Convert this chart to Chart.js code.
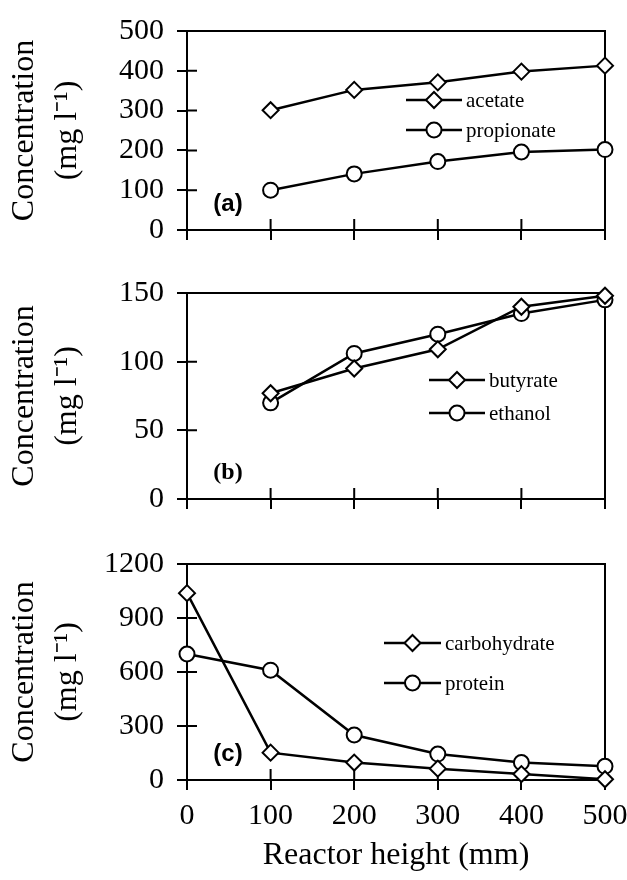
<!DOCTYPE html>
<html>
<head>
<meta charset="utf-8">
<script src="https://cdn.jsdelivr.net/npm/chart.js@4.4.1/dist/chart.umd.min.js"></script>
<style>
  html, body { margin: 0; padding: 0; background: #fff; }
  #wrap { position: relative; width: 627px; height: 880px; }
  #wrap canvas { position: absolute; left: 0; }
</style>
</head>
<body>
<div id="wrap">
  <canvas id="panelA" width="627" height="262" style="top:0"></canvas>
  <canvas id="panelB" width="627" height="268" style="top:262px"></canvas>
  <canvas id="panelC" width="627" height="350" style="top:530px"></canvas>
</div>
<script>
// reactor height (mm)
const heights = [0, 100, 200, 300, 400, 500];
const xTicks = [0, 100, 200, 300, 400, 500];

// (a) acetate / propionate, mg/l
const acetate = [null, 301, 352, 371, 398, 413];
const propionate = [null, 100, 141, 172, 196, 202];
const yTicksA = [0, 100, 200, 300, 400, 500];

// (b) butyrate / ethanol
const butyrate = [null, 77, 95, 109, 140, 148];
const ethanol = [null, 70, 106, 120, 135, 145];
const yTicksB = [0, 50, 100, 150];

// (c) carbohydrate / protein
const carbohydrate = [1038, 152, 97, 63, 33, 4];
const protein = [700, 610, 250, 144, 97, 76];
const yTicksC = [0, 300, 600, 900, 1200];

const serif = '"Liberation Serif", "Times New Roman", serif';

function points(ys) {
  return heights.map((x, i) => ({x: x, y: ys[i]})).filter(p => p.y !== null);
}

function mark(ctx, style, x, y, r) {
  ctx.beginPath();
  if (style === 'rectRot') {
    ctx.moveTo(x, y - r); ctx.lineTo(x + r, y); ctx.lineTo(x, y + r); ctx.lineTo(x - r, y);
    ctx.closePath();
  } else {
    ctx.arc(x, y, r, 0, Math.PI * 2);
  }
  ctx.fillStyle = '#fff';
  ctx.fill();
  ctx.lineWidth = 2;
  ctx.strokeStyle = '#000';
  ctx.stroke();
}

// box round the plot, inner half of the ticks, and the panel letter
const frame = {
  id: 'frame',
  beforeDatasetsDraw(chart) {
    const {ctx, chartArea: a, scales} = chart;
    const o = chart.options.plugins.frame;
    ctx.save();
    ctx.strokeStyle = '#000';
    ctx.lineWidth = 2;
    ctx.strokeRect(a.left, a.top, a.right - a.left, a.bottom - a.top);
    ctx.beginPath();
    scales.x.ticks.forEach(t => {
      const px = scales.x.getPixelForValue(t.value);
      ctx.moveTo(px, a.bottom);
      ctx.lineTo(px, a.bottom - 11);
    });
    scales.y.ticks.forEach(t => {
      const py = scales.y.getPixelForValue(t.value);
      ctx.moveTo(a.left, py);
      ctx.lineTo(a.left + 10, py);
    });
    ctx.stroke();
    ctx.fillStyle = '#000';
    ctx.font = o.font;
    ctx.textAlign = 'center';
    ctx.textBaseline = 'middle';
    ctx.fillText(o.tag, a.left + 41, a.bottom - 26);
    ctx.restore();
  }
};

// legend drawn inside the plot
const keyBox = {
  id: 'keyBox',
  afterDraw(chart) {
    const o = chart.options.plugins.keyBox;
    const ctx = chart.ctx;
    chart.data.datasets.forEach((ds, i) => {
      const y = o.y + i * o.dy;
      ctx.save();
      ctx.strokeStyle = '#000';
      ctx.lineWidth = 2.5;
      ctx.beginPath();
      ctx.moveTo(o.x0, y);
      ctx.lineTo(o.x1, y);
      ctx.stroke();
      mark(ctx, ds.pointStyle, (o.x0 + o.x1) / 2, y, ds.pointRadius);
      ctx.fillStyle = '#000';
      ctx.font = '21px ' + serif;
      ctx.textAlign = 'left';
      ctx.textBaseline = 'middle';
      ctx.fillText(ds.label, o.x1 + 4, y + 1);
      ctx.restore();
    });
  }
};

function series(label, ys, style) {
  return {
    label: label,
    data: points(ys),
    borderColor: '#000',
    borderWidth: 2.5,
    pointStyle: style,
    pointRadius: style === 'rectRot' ? 8 : 7.5,
    pointBorderWidth: 2,
    pointBackgroundColor: '#fff',
    pointBorderColor: '#000',
    tension: 0,
    clip: false
  };
}

function makePanel(id, sets, yTicks, p) {
  new Chart(document.getElementById(id), {
    type: 'line',
    data: {datasets: sets},
    plugins: [frame, keyBox],
    options: {
      responsive: false,
      animation: false,
      events: [],
      layout: {padding: {top: p.top, right: 22, left: 0, bottom: 0}},
      plugins: {
        legend: {display: false},
        tooltip: {enabled: false},
        frame: {tag: p.tag, font: p.tagFont},
        keyBox: p.key
      },
      scales: {
        x: {
          type: 'linear',
          min: 0,
          max: 500,
          afterBuildTicks: s => { s.ticks = xTicks.map(v => ({value: v})); },
          afterFit: s => { s.height = p.xh; s.paddingLeft = 0; s.paddingRight = 0; },
          border: {display: false},
          grid: {drawOnChartArea: false, tickLength: 10, color: '#000', lineWidth: 2},
          ticks: {display: p.xLabels, color: '#000', padding: 8, maxRotation: 0,
                  callback: v => String(v),
                  font: {family: serif, size: 30}},
          title: {display: p.xLabels, text: 'Reactor height (mm)', color: '#000',
                  font: {family: serif, size: 32}, padding: {top: 0, bottom: 5}}
        },
        y: {
          min: 0,
          max: yTicks[yTicks.length - 1],
          afterBuildTicks: s => { s.ticks = yTicks.map(v => ({value: v})); },
          afterFit: s => { s.width = 187; },
          border: {display: false},
          grid: {drawOnChartArea: false, tickLength: 10, color: '#000', lineWidth: 2},
          ticks: {color: '#000', padding: 13, callback: v => String(v),
                  font: {family: serif, size: 30}},
          title: {display: true, text: ['Concentration', '(mg l\u207B\u00B9)'], color: '#000',
                  font: {family: serif, size: 32, lineHeight: 1.35}, padding: {top: 3, bottom: 0}}
        }
      }
    }
  });
}

makePanel('panelA',
  [series('acetate', acetate, 'rectRot'), series('propionate', propionate, 'circle')],
  yTicksA,
  {top: 24, xh: 32, xLabels: false, tag: '(a)', tagFont: 'bold 24px "Liberation Sans", Arial, sans-serif',
   key: {x0: 406, x1: 462, y: 100, dy: 30}});

makePanel('panelB',
  [series('butyrate', butyrate, 'rectRot'), series('ethanol', ethanol, 'circle')],
  yTicksB,
  {top: 31, xh: 30, xLabels: false, tag: '(b)', tagFont: 'bold 24px ' + serif,
   key: {x0: 429, x1: 485, y: 118, dy: 33}});

makePanel('panelC',
  [series('carbohydrate', carbohydrate, 'rectRot'), series('protein', protein, 'circle')],
  yTicksC,
  {top: 34, xh: 100, xLabels: true, tag: '(c)', tagFont: 'bold 24px "Liberation Sans", Arial, sans-serif',
   key: {x0: 384, x1: 441, y: 113, dy: 40}});
</script>
</body>
</html>
